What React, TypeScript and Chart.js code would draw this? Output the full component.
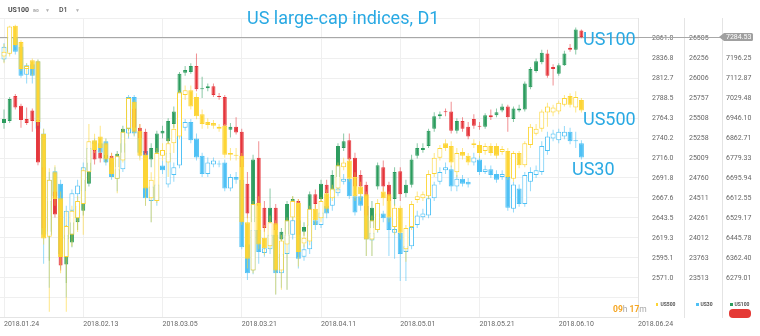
import React, { useEffect, useRef } from 'react';
import { Chart, registerables } from 'chart.js';

Chart.register(...registerables);

// ---------- axis labels ----------
const dateLabels = ['2018.01.24', '2018.02.13', '2018.03.05', '2018.03.21', '2018.04.11', '2018.05.01', '2018.05.21', '2018.06.10', '2018.06.24'];
const dateLabelStep = 14;
const us500TickLabels = ['2861.0', '2836.8', '2812.7', '2788.5', '2764.3', '2740.2', '2716.0', '2691.8', '2667.6', '2643.5', '2619.3', '2595.1', '2571.0'];
const us30TickLabels = ['26505', '26256', '26006', '25757', '25508', '25258', '25009', '24760', '24511', '24261', '24012', '23763', '23513'];
const us100TickLabels = ['7196.25', '7112.87', '7029.48', '6946.10', '6862.71', '6779.33', '6695.94', '6612.55', '6529.17', '6445.78', '6362.40', '6279.01'];
const us100LastPrice = 7284.53;

// ---------- US500 (yellow) ----------
const us500Open = [2838.8, 2842.3, 2876.1, 2856.3, 2823.7, 2834.2, 2833.0, 2745.5, 2620.8, 2698.9,
  2667.4, 2596.3, 2623.1, 2643.0, 2660.4, 2698.9, 2737.4, 2742.1, 2733.9, 2716.4,
  2690.8, 2712.9, 2751.4, 2784.0, 2749.0, 2719.9, 2667.4, 2663.9, 2718.7, 2710.6,
  2733.9, 2742.1, 2792.2, 2798.0, 2789.9, 2768.9, 2759.5, 2758.4, 2753.7, 2754.9,
  2722.2, 2719.9, 2718.7, 2638.3, 2580.0, 2661.6, 2619.6, 2609.2, 2637.1, 2580.0,
  2611.5, 2644.1, 2661.6, 2612.6, 2615.0, 2654.6, 2643.0, 2673.3, 2667.4, 2679.1,
  2704.7, 2712.9, 2693.1, 2681.4, 2672.1, 2617.3, 2629.0, 2675.6, 2672.1, 2632.5,
  2655.8, 2605.7, 2632.5, 2665.1, 2667.4, 2669.8, 2696.6, 2716.4, 2733.9, 2730.4,
  2698.9, 2723.4, 2718.7, 2731.6, 2731.6, 2724.6, 2730.4, 2730.4, 2723.4, 2724.6,
  2690.8, 2722.2, 2707.1, 2731.6, 2745.5, 2751.4, 2771.2, 2771.2, 2772.4, 2780.5,
  2791.0, 2777.0, 2786.3];
const us500High = [2854.0, 2876.1, 2877.3, 2858.6, 2830.7, 2836.5, 2835.3, 2751.4, 2703.6, 2707.1,
  2675.6, 2652.3, 2658.1, 2669.8, 2704.7, 2757.2, 2745.5, 2754.9, 2739.7, 2722.2,
  2722.2, 2751.4, 2789.9, 2786.3, 2757.2, 2722.2, 2698.9, 2728.1, 2733.9, 2739.7,
  2757.2, 2798.0, 2803.8, 2803.8, 2794.5, 2774.7, 2764.2, 2761.9, 2757.2, 2757.2,
  2728.1, 2728.1, 2722.2, 2646.5, 2663.9, 2669.8, 2634.8, 2646.5, 2640.6, 2623.1,
  2644.1, 2669.8, 2666.3, 2626.6, 2658.1, 2660.4, 2668.6, 2677.9, 2683.8, 2710.6,
  2716.4, 2716.4, 2698.9, 2687.3, 2675.6, 2646.5, 2666.3, 2680.3, 2675.6, 2660.4,
  2658.1, 2634.8, 2663.9, 2675.6, 2675.6, 2701.3, 2722.2, 2731.6, 2738.6, 2736.2,
  2728.1, 2728.1, 2722.2, 2738.6, 2736.2, 2733.9, 2733.9, 2733.9, 2730.4, 2728.1,
  2724.6, 2724.6, 2736.2, 2757.2, 2757.2, 2774.7, 2782.9, 2780.5, 2785.2, 2792.2,
  2794.5, 2796.8, 2788.7];
const us500Low = [2830.7, 2838.8, 2850.5, 2821.3, 2817.8, 2815.5, 2754.9, 2611.5, 2529.9, 2658.1,
  2576.5, 2529.9, 2609.2, 2626.6, 2623.1, 2687.3, 2722.2, 2722.2, 2710.6, 2693.1,
  2673.3, 2710.6, 2742.1, 2743.2, 2712.9, 2658.1, 2638.3, 2661.6, 2712.9, 2693.1,
  2722.2, 2738.6, 2786.3, 2774.7, 2763.0, 2751.4, 2751.4, 2751.4, 2747.9, 2716.4,
  2712.9, 2712.9, 2634.8, 2582.3, 2576.5, 2605.7, 2598.7, 2605.7, 2550.9, 2556.7,
  2556.7, 2640.6, 2584.7, 2608.0, 2610.3, 2634.8, 2638.3, 2650.0, 2663.9, 2675.6,
  2701.3, 2687.3, 2663.9, 2663.9, 2597.5, 2597.5, 2626.6, 2658.1, 2638.3, 2623.1,
  2617.3, 2590.5, 2629.0, 2661.6, 2663.9, 2666.3, 2693.1, 2712.9, 2724.6, 2704.7,
  2693.1, 2714.1, 2707.1, 2728.1, 2716.4, 2719.9, 2718.7, 2715.2, 2719.9, 2689.6,
  2687.3, 2703.6, 2704.7, 2728.1, 2743.2, 2747.9, 2753.7, 2766.5, 2768.9, 2778.2,
  2777.0, 2771.2, 2771.2];
const us500Close = [2844.6, 2875.0, 2852.8, 2823.7, 2827.2, 2823.7, 2759.5, 2618.5, 2689.6, 2666.3,
  2596.3, 2633.6, 2652.3, 2663.9, 2701.3, 2736.2, 2725.7, 2728.1, 2714.1, 2696.6,
  2718.7, 2747.9, 2788.7, 2747.9, 2718.7, 2679.1, 2689.6, 2722.2, 2725.7, 2733.9,
  2751.4, 2795.7, 2798.0, 2778.2, 2766.5, 2757.2, 2756.0, 2754.9, 2751.4, 2719.9,
  2719.9, 2718.7, 2638.3, 2594.0, 2660.4, 2611.5, 2606.8, 2638.3, 2580.0, 2616.1,
  2640.6, 2663.9, 2602.2, 2619.6, 2654.6, 2640.6, 2663.9, 2654.6, 2679.1, 2707.1,
  2710.6, 2690.8, 2669.8, 2672.1, 2617.3, 2640.6, 2661.6, 2667.4, 2644.1, 2655.8,
  2625.5, 2631.3, 2660.4, 2669.8, 2672.1, 2696.6, 2716.4, 2728.1, 2728.1, 2710.6,
  2722.2, 2718.7, 2710.6, 2733.9, 2722.2, 2730.4, 2722.2, 2718.7, 2726.9, 2693.1,
  2722.2, 2707.1, 2733.9, 2753.7, 2751.4, 2772.4, 2778.2, 2777.0, 2782.9, 2788.7,
  2780.5, 2789.9, 2773.5];

// ---------- US30 (blue) ----------
const us30Open = [26240, 26337, 26517, 26397, 26048, 26180, 26216, 25314, 24051, 24845,
  24689, 23991, 24352, 24557, 24593, 24857, 25182, 25194, 25218, 24953,
  24749, 24869, 25314, 25771, 25338, 25098, 24472, 24472, 24917, 24677,
  24797, 24917, 25386, 25459, 25254, 25038, 24809, 24929, 24941, 24953,
  24629, 24773, 24737, 23931, 23606, 24111, 23823, 23871, 24051, 23570,
  23811, 24051, 24232, 23775, 23871, 24232, 24172, 24412, 24412, 24569,
  24713, 24749, 24532, 24532, 24412, 23979, 24111, 24316, 24268, 24075,
  24075, 23835, 23907, 24172, 24268, 24292, 24508, 24713, 24857, 24869,
  24653, 24749, 24713, 24953, 24990, 24833, 24869, 24809, 24773, 24773,
  24376, 24629, 24436, 24713, 24797, 24833, 25098, 25254, 25230, 25278,
  25338, 25230, 25194];
const us30High = [26445, 26541, 26541, 26421, 26192, 26216, 26240, 25374, 24833, 24893,
  24737, 24412, 24617, 24737, 24953, 25194, 25254, 25254, 25254, 25014,
  24953, 25254, 25795, 25795, 25374, 25134, 24713, 24737, 24977, 25098,
  24953, 25410, 25495, 25495, 25314, 25074, 25014, 25014, 24977, 24990,
  24809, 24833, 24773, 23991, 24172, 24172, 23991, 24172, 24111, 23871,
  24111, 24292, 24292, 23931, 24232, 24292, 24376, 24472, 24593, 24713,
  24809, 24809, 24593, 24593, 24472, 24136, 24376, 24352, 24316, 24208,
  24111, 23991, 24208, 24352, 24376, 24557, 24713, 24893, 24953, 24917,
  24797, 24797, 24761, 25074, 25038, 24917, 24917, 24857, 24857, 24809,
  24713, 24677, 24833, 24893, 24917, 25218, 25338, 25362, 25374, 25410,
  25386, 25338, 25230];
const us30Low = [26204, 26301, 26301, 26012, 25940, 25940, 25338, 23690, 23390, 24412,
  23630, 23270, 24292, 24472, 24532, 24809, 25134, 25038, 24917, 24737,
  24593, 24833, 25254, 25278, 25014, 24412, 24208, 24412, 24809, 24641,
  24713, 24881, 25350, 25194, 24977, 24773, 24773, 24893, 24893, 24593,
  24593, 24689, 23871, 23486, 23558, 23690, 23775, 23811, 23306, 23390,
  23366, 23991, 23630, 23727, 23811, 24111, 24136, 24256, 24352, 24532,
  24677, 24496, 24292, 24352, 23787, 23787, 24075, 24208, 23787, 23751,
  23474, 23474, 23871, 24136, 24232, 24256, 24472, 24677, 24809, 24593,
  24593, 24653, 24641, 24917, 24797, 24809, 24761, 24701, 24737, 24352,
  24328, 24400, 24400, 24593, 24761, 24797, 25050, 25218, 25194, 25242,
  25182, 25134, 24990];
const us30Close = [26397, 26517, 26337, 26036, 26168, 26036, 25374, 24051, 24737, 24532,
  23811, 24352, 24569, 24665, 24893, 25134, 25218, 25074, 24953, 24773,
  24869, 25194, 25771, 25314, 25074, 24508, 24653, 24677, 24857, 25074,
  24893, 25374, 25459, 25230, 25014, 24809, 24953, 24977, 24929, 24629,
  24773, 24737, 23895, 23570, 24111, 23835, 23883, 24051, 23570, 23811,
  24051, 24232, 23751, 23871, 24172, 24172, 24328, 24316, 24532, 24629,
  24749, 24532, 24328, 24412, 23991, 24075, 24316, 24256, 24111, 24123,
  23811, 23907, 24148, 24292, 24316, 24508, 24677, 24833, 24893, 24653,
  24749, 24689, 24677, 25014, 24833, 24869, 24797, 24737, 24809, 24388,
  24677, 24436, 24797, 24833, 24857, 25158, 25278, 25314, 25338, 25338,
  25218, 25218, 25014];

// ---------- US100 (green / red) ----------
const us100Open = [6925.6, 6933.7, 7038.3, 6998.0, 6941.7, 6977.9, 6937.7, 6740.6, 6471.1, 6640.0,
  6539.5, 6334.3, 6426.9, 6511.3, 6559.6, 6672.2, 6813.0, 6800.9, 6776.8, 6788.9,
  6740.6, 6800.9, 6901.5, 6986.0, 6905.5, 6889.4, 6772.8, 6800.9, 6881.4, 6849.2,
  6921.6, 6994.0, 7134.8, 7138.8, 7163.0, 7066.4, 7070.4, 7078.5, 7038.3, 7034.2,
  6897.5, 6909.5, 6889.4, 6672.2, 6511.3, 6780.8, 6571.7, 6511.3, 6571.7, 6438.9,
  6459.0, 6595.8, 6599.8, 6471.1, 6499.3, 6628.0, 6607.9, 6668.2, 6640.0, 6700.4,
  6821.1, 6853.2, 6780.8, 6708.4, 6668.2, 6487.2, 6660.2, 6740.6, 6668.2, 6607.9,
  6724.5, 6632.0, 6668.2, 6788.9, 6813.0, 6829.1, 6901.5, 6953.8, 6973.9, 6973.9,
  6893.5, 6933.7, 6909.5, 6941.7, 6913.6, 6909.5, 6957.8, 6957.8, 6977.9, 6994.0,
  6941.7, 6977.9, 6982.0, 7074.5, 7142.8, 7179.1, 7215.3, 7158.9, 7130.8, 7167.0,
  7239.4, 7231.3, 7311.8];
const us100High = [6982.0, 7034.2, 7046.3, 7006.1, 6990.0, 6986.0, 6945.8, 6760.7, 6640.0, 6660.2,
  6579.7, 6499.3, 6551.6, 6599.8, 6712.5, 6780.8, 6829.1, 6821.1, 6809.0, 6800.9,
  6809.0, 6913.6, 7002.1, 7010.1, 6921.6, 6901.5, 6841.2, 6893.5, 6913.6, 6945.8,
  6994.0, 7138.8, 7163.0, 7175.0, 7215.3, 7118.7, 7090.6, 7090.6, 7050.3, 7042.3,
  6925.6, 6949.8, 6901.5, 6720.5, 6792.9, 6849.2, 6599.8, 6652.1, 6587.8, 6487.2,
  6599.8, 6619.9, 6607.9, 6511.3, 6640.0, 6648.1, 6688.3, 6688.3, 6728.5, 6841.2,
  6881.4, 6881.4, 6800.9, 6728.5, 6680.3, 6599.8, 6760.7, 6768.8, 6680.3, 6740.6,
  6740.6, 6688.3, 6792.9, 6841.2, 6841.2, 6901.5, 6969.9, 6973.9, 6986.0, 7014.1,
  6945.8, 6949.8, 6929.7, 6961.8, 6929.7, 6965.9, 6982.0, 6986.0, 7006.1, 7002.1,
  6994.0, 7002.1, 7098.6, 7158.9, 7195.1, 7231.3, 7231.3, 7171.0, 7175.0, 7227.3,
  7255.5, 7323.9, 7315.8];
const us100Low = [6901.5, 6925.6, 6982.0, 6905.5, 6917.6, 6889.4, 6748.7, 6459.0, 6350.4, 6531.4,
  6310.2, 6257.9, 6406.7, 6479.2, 6539.5, 6660.2, 6752.7, 6760.7, 6760.7, 6728.5,
  6728.5, 6792.9, 6893.5, 6889.4, 6841.2, 6760.7, 6740.6, 6780.8, 6861.3, 6841.2,
  6905.5, 6982.0, 7122.7, 7130.8, 7058.4, 7030.2, 7058.4, 7034.2, 7022.2, 6905.5,
  6865.3, 6877.4, 6728.5, 6527.4, 6495.2, 6567.6, 6471.1, 6495.2, 6459.0, 6422.8,
  6447.0, 6579.7, 6438.9, 6455.0, 6487.2, 6567.6, 6599.8, 6619.9, 6632.0, 6688.3,
  6809.0, 6760.7, 6640.0, 6640.0, 6519.4, 6479.2, 6648.1, 6640.0, 6579.7, 6579.7,
  6599.8, 6615.9, 6656.1, 6776.8, 6800.9, 6821.1, 6889.4, 6941.7, 6953.8, 6881.4,
  6881.4, 6889.4, 6857.3, 6901.5, 6897.5, 6901.5, 6937.7, 6949.8, 6969.9, 6889.4,
  6929.7, 6969.9, 6973.9, 7066.4, 7134.8, 7171.0, 7114.7, 7082.5, 7122.7, 7163.0,
  7223.3, 7211.2, 7279.6];
const us100Close = [6941.7, 7026.2, 6990.0, 6937.7, 6925.6, 6933.7, 6760.7, 6487.2, 6599.8, 6543.5,
  6330.3, 6459.0, 6511.3, 6579.7, 6688.3, 6760.7, 6772.8, 6776.8, 6792.9, 6740.6,
  6796.9, 6901.5, 6982.0, 6905.5, 6861.3, 6792.9, 6821.1, 6881.4, 6893.5, 6933.7,
  6973.9, 7130.8, 7146.9, 7163.0, 7066.4, 7070.4, 7078.5, 7042.3, 7034.2, 6913.6,
  6909.5, 6885.4, 6740.6, 6547.5, 6772.8, 6579.7, 6487.2, 6571.7, 6479.2, 6471.1,
  6587.8, 6607.9, 6459.0, 6491.2, 6628.0, 6587.8, 6672.2, 6632.0, 6708.4, 6829.1,
  6849.2, 6772.8, 6660.2, 6660.2, 6539.5, 6571.7, 6748.7, 6660.2, 6599.8, 6720.5,
  6628.0, 6668.2, 6772.8, 6821.1, 6821.1, 6893.5, 6953.8, 6961.8, 6969.9, 6893.5,
  6933.7, 6901.5, 6869.3, 6913.6, 6909.5, 6957.8, 6949.8, 6969.9, 6994.0, 6949.8,
  6986.0, 6986.0, 7090.6, 7150.9, 7183.1, 7219.3, 7122.7, 7150.9, 7167.0, 7215.3,
  7231.3, 7315.8, 7284.53];

// ---------- styling ----------
const YELLOW = '#fdd535';
const BLUE = '#4fc1f5';
const GREEN = '#2c9c5e';
const RED = '#e5353b';
const LABEL_BLUE = '#29a9e3';
const GRID = '#efefef';
const GRID_ROWS = 15;
const FONT = 'Roboto, "Noto Sans", sans-serif';

function candleSets(open: number[], high: number[], low: number[], close: number[], axisId: string,
  upFill: string, upLine: string, downFill: string, downLine: string, upWick: string, downWick: string,
  width: number, order: number) {
  const up = close.map((c, i) => c >= open[i]);
  return [
    {
      type: 'bar',
      data: open.map((_, i) => ({ x: i, y: [low[i], high[i]] })),
      yAxisID: axisId,
      backgroundColor: up.map(u => (u ? upWick : downWick)),
      borderWidth: 0,
      barThickness: 1,
      grouped: false,
      order: order + 1,
      inflateAmount: 0,
    },
    {
      type: 'bar',
      data: open.map((o, i) => ({ x: i, y: [o, close[i]] })),
      yAxisID: axisId,
      backgroundColor: up.map(u => (u ? upFill : downFill)),
      borderColor: up.map(u => (u ? upLine : downLine)),
      borderWidth: 1,
      borderSkipped: false,
      barThickness: width,
      grouped: false,
      minBarLength: 1,
      order,
      inflateAmount: 0,
    },
  ];
}

function valueAxis(labels: string[], firstRow: number, width: number, padding: number, weight: number, drawGrid: boolean) {
  const first = parseFloat(labels[0]);
  const last = parseFloat(labels[labels.length - 1]);
  const step = (first - last) / (labels.length - 1);
  const top = first + firstRow * step;
  const bottom = top - GRID_ROWS * step;
  return {
    type: 'linear',
    position: 'right',
    weight,
    min: bottom,
    max: top,
    afterBuildTicks: (scale: any) => {
      const t: any[] = [];
      for (let r = GRID_ROWS; r >= 0; r--) t.push({ value: top - r * step });
      scale.ticks = t;
    },
    afterFit: (scale: any) => { scale.width = width; },
    grid: { display: true, drawOnChartArea: drawGrid, drawTicks: false, color: GRID, lineWidth: 1 },
    border: { display: true, color: '#e4e4e4', width: 1 },
    ticks: {
      padding,
      color: '#666',
      font: { size: 7, family: FONT },
      autoSkip: false,
      callback: (v: number) => {
        const row = Math.round((top - v) / step);
        const lab = labels[row - firstRow];
        return lab === undefined ? '' : lab;
      },
    },
  };
}

const pricePlugin = {
  id: 'pricePlugin',
  beforeDatasetsDraw(chart: any) {
    const s = chart.scales.y100;
    const y = Math.floor(s.getPixelForValue(us100LastPrice)) + 0.5;
    const ctx = chart.ctx;
    ctx.save();
    ctx.strokeStyle = '#a8a8a8';
    ctx.lineWidth = 1;
    ctx.beginPath();
    ctx.moveTo(chart.chartArea.left, y);
    ctx.lineTo(s.left, y);
    ctx.stroke();
    ctx.restore();
  },
  afterDraw(chart: any) {
    const s = chart.scales.y100;
    const y = s.getPixelForValue(us100LastPrice);
    const ctx = chart.ctx;
    const x0 = s.left - 3;
    const x1 = s.left + 2;
    const x2 = s.left + 31;
    const h = 4;
    ctx.save();
    ctx.fillStyle = '#a0a0a0';
    ctx.beginPath();
    ctx.moveTo(x0, y);
    ctx.lineTo(x1, y - h);
    ctx.lineTo(x2 - 1.5, y - h);
    ctx.quadraticCurveTo(x2, y - h, x2, y - h + 1.5);
    ctx.lineTo(x2, y + h - 1.5);
    ctx.quadraticCurveTo(x2, y + h, x2 - 1.5, y + h);
    ctx.lineTo(x1, y + h);
    ctx.closePath();
    ctx.fill();
    ctx.fillStyle = '#ffffff';
    ctx.font = '7px ' + FONT;
    ctx.textBaseline = 'middle';
    ctx.textAlign = 'left';
    ctx.fillText(us100LastPrice.toFixed(2), s.left + 4, y + 0.5);
    ctx.restore();
  },
};

const abs = (left: number, top: number, extra: any = {}) => ({
  position: 'absolute' as const, left, top, lineHeight: 1, whiteSpace: 'nowrap' as const, fontFamily: FONT, ...extra,
});

export default function App() {
  const ref = useRef<HTMLCanvasElement>(null);
  useEffect(() => {
    const canvas = ref.current;
    if (!canvas) return;
    const datasets: any[] = [
      ...candleSets(us500Open, us500High, us500Low, us500Close, 'y500', '#ffffff', YELLOW, YELLOW, YELLOW,
        'rgba(253,213,53,0.6)', 'rgba(253,213,53,0.6)', 5, 0),
      ...candleSets(us100Open, us100High, us100Low, us100Close, 'y100', GREEN, GREEN, RED, RED,
        'rgba(44,156,94,0.55)', 'rgba(229,53,59,0.55)', 4, 2),
      ...candleSets(us30Open, us30High, us30Low, us30Close, 'y30', '#ffffff', BLUE, BLUE, BLUE,
        'rgba(79,193,245,0.6)', 'rgba(79,193,245,0.6)', 5, 4),
    ];
    const chart = new Chart(canvas, {
      type: 'bar',
      data: { datasets },
      options: {
        animation: false,
        responsive: false,
        maintainAspectRatio: false,
        devicePixelRatio: 1,
        events: [],
        layout: { padding: { top: 10, left: 0, right: 0, bottom: 0 } },
        plugins: { legend: { display: false }, tooltip: { enabled: false }, title: { display: false } },
        scales: {
          x: {
            type: 'linear',
            min: -0.707,
            max: (dateLabels.length - 1) * dateLabelStep,
            offset: false,
            afterBuildTicks: (scale: any) => {
              scale.ticks = dateLabels.map((_, k) => ({ value: k * dateLabelStep }));
            },
            afterFit: (scale: any) => { scale.height = 15; },
            grid: { offset: false, color: GRID, drawTicks: false },
            border: { display: true, color: '#e4e4e4' },
            ticks: {
              align: 'start',
              maxRotation: 0,
              autoSkip: false,
              padding: 2,
              color: '#666',
              font: { size: 7, family: FONT },
              callback: (v: number) => dateLabels[Math.round(v / dateLabelStep)] || '',
            },
          },
          y500: valueAxis(us500TickLabels, 1, 46, 14, 1, true),
          y30: valueAxis(us30TickLabels, 1, 38, 5, 2, false),
          y100: valueAxis(us100TickLabels, 2, 38, 4, 3, false),
        } as any,
      },
      plugins: [pricePlugin],
    } as any);
    return () => chart.destroy();
  }, []);

  return (
    <div style={{ position: 'absolute', left: 0, top: 0, width: 760, height: 336, background: '#ffffff', overflow: 'hidden' }}>
      <canvas ref={ref} width={760} height={336} style={{ position: 'absolute', left: 0, top: 0, width: 760, height: 336 }} />
      {/* header */}
      <div style={abs(8, 7, { fontSize: 7, fontWeight: 700, color: '#4a4a4a' })}>US100</div>
      <div style={abs(33, 9.5, { fontSize: 3.5, fontWeight: 700, color: '#a0a0a0' })}>IND</div>
      <div style={abs(45, 8, { fontSize: 5, color: '#b0b0b0' })}>▼</div>
      <div style={abs(59, 7, { fontSize: 7, fontWeight: 500, color: '#4a4a4a' })}>D1</div>
      <div style={abs(75, 8, { fontSize: 5, color: '#b0b0b0' })}>▼</div>
      {/* title */}
      <div style={abs(247, 9, { fontSize: 18, color: LABEL_BLUE })}>US large-cap indices, D1</div>
      {/* series labels */}
      <div style={abs(583, 30, { fontSize: 18, color: LABEL_BLUE })}>US100</div>
      <div style={abs(583, 110, { fontSize: 18, color: LABEL_BLUE })}>US500</div>
      <div style={abs(572, 160, { fontSize: 18, color: LABEL_BLUE })}>US30</div>
      {/* countdown */}
      <div style={abs(613, 305, { fontSize: 8.5, color: '#a8a8a8' })}>
        <span style={{ color: '#f5a623', fontWeight: 700 }}>09</span>h <span style={{ color: '#f5a623', fontWeight: 700 }}>17</span>m
      </div>
      {/* legend */}
      <div style={abs(655.7, 303.3, { width: 2.6, height: 2.6, background: YELLOW })} />
      <div style={abs(660.5, 302, { fontSize: 5, fontWeight: 700, color: '#555' })}>US500</div>
      <div style={abs(696, 303.3, { width: 2.6, height: 2.6, background: BLUE })} />
      <div style={abs(700.5, 302, { fontSize: 5, fontWeight: 700, color: '#555' })}>US30</div>
      <div style={abs(730, 303.3, { width: 2.6, height: 2.6, background: GREEN })} />
      <div style={abs(734.5, 302, { fontSize: 5, fontWeight: 700, color: '#555' })}>US100</div>
      <div style={abs(729, 309, { width: 22, height: 8.5, borderRadius: 4, background: '#e53935' })} />
    </div>
  );
}
